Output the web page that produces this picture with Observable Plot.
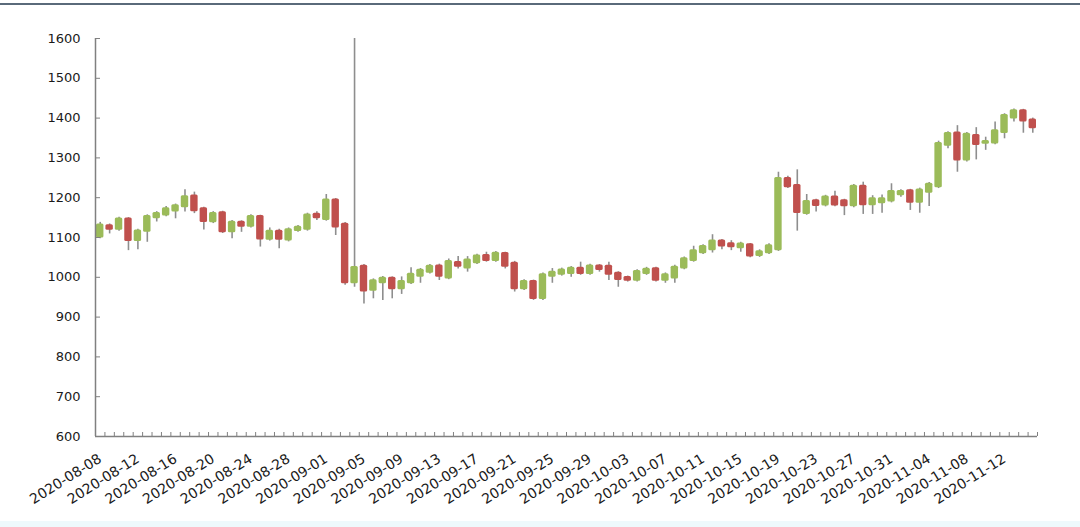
<!DOCTYPE html>
<html>
<head>
<meta charset="utf-8">
<script src="https://cdn.jsdelivr.net/npm/d3@7"></script>
<script src="https://cdn.jsdelivr.net/npm/@observablehq/plot@0.6"></script>
<style>
  html, body { margin: 0; padding: 0; background: #ffffff; }
  #wrap { position: relative; width: 1080px; height: 527px; overflow: hidden; }
  #topline { position: absolute; left: 0; top: 3px; width: 1080px; height: 2px; background: #5a6a7a; }
  #bottomband { position: absolute; left: 0; top: 521px; width: 1080px; height: 6px; background: #eef9fc; }
  #chart { position: absolute; left: 0; top: 0; }
</style>
</head>
<body>
<div id="wrap">
  <div id="chart"></div>
  <div id="topline"></div>
  <div id="bottomband"></div>
</div>
<script>
const dates = [
  "2020-08-08","2020-08-09","2020-08-10","2020-08-11","2020-08-12","2020-08-13","2020-08-14","2020-08-15","2020-08-16","2020-08-17",
  "2020-08-18","2020-08-19","2020-08-20","2020-08-21","2020-08-22","2020-08-23","2020-08-24","2020-08-25","2020-08-26","2020-08-27",
  "2020-08-28","2020-08-29","2020-08-30","2020-08-31","2020-09-01","2020-09-02","2020-09-03","2020-09-04","2020-09-05","2020-09-06",
  "2020-09-07","2020-09-08","2020-09-09","2020-09-10","2020-09-11","2020-09-12","2020-09-13","2020-09-14","2020-09-15","2020-09-16",
  "2020-09-17","2020-09-18","2020-09-19","2020-09-20","2020-09-21","2020-09-22","2020-09-23","2020-09-24","2020-09-25","2020-09-26",
  "2020-09-27","2020-09-28","2020-09-29","2020-09-30","2020-10-01","2020-10-02","2020-10-03","2020-10-04","2020-10-05","2020-10-06",
  "2020-10-07","2020-10-08","2020-10-09","2020-10-10","2020-10-11","2020-10-12","2020-10-13","2020-10-14","2020-10-15","2020-10-16",
  "2020-10-17","2020-10-18","2020-10-19","2020-10-20","2020-10-21","2020-10-22","2020-10-23","2020-10-24","2020-10-25","2020-10-26",
  "2020-10-27","2020-10-28","2020-10-29","2020-10-30","2020-10-31","2020-11-01","2020-11-02","2020-11-03","2020-11-04","2020-11-05",
  "2020-11-06","2020-11-07","2020-11-08","2020-11-09","2020-11-10","2020-11-11","2020-11-12","2020-11-13","2020-11-14","2020-11-15"
];
const open = [
  1099,1132,1118,1149,1090,1113,1147,1154,1164,1175,
  1207,1175,1137,1165,1112,1141,1126,1155,1093,1118,
  1091,1115,1118,1161,1143,1197,1136,984,1030,965,
  984,1000,969,984,1000,1010,1031,996,1040,1021,
  1034,1057,1040,1062,1038,969,992,944,1000,1005,
  1007,1025,1007,1031,1030,1013,1002,990,1007,1024,
  990,996,1021,1040,1059,1067,1094,1087,1072,1084,
  1052,1059,1067,1251,1233,1158,1195,1179,1204,1195,
  1177,1231,1180,1185,1189,1205,1220,1186,1211,1225,
  1329,1365,1292,1359,1334,1335,1361,1398,1421,1398
];
const close = [
  1134,1118,1149,1090,1119,1155,1163,1175,1182,1205,
  1165,1138,1163,1112,1141,1126,1155,1094,1118,1093,
  1122,1128,1159,1147,1197,1124,984,1027,963,994,
  1000,969,992,1010,1020,1030,1000,1042,1025,1046,
  1056,1040,1063,1025,969,992,944,1009,1015,1021,
  1025,1007,1031,1017,1005,992,990,1017,1023,990,
  1009,1028,1049,1069,1080,1094,1076,1074,1086,1051,
  1067,1082,1251,1225,1160,1193,1178,1204,1179,1177,
  1231,1180,1200,1200,1218,1218,1186,1222,1236,1339,
  1364,1292,1362,1331,1344,1371,1409,1421,1390,1373
];
const high = [
  1138,1134,1151,1150,1121,1157,1165,1178,1184,1220,
  1214,1176,1165,1166,1143,1142,1157,1156,1124,1121,
  1124,1130,1161,1165,1208,1198,1138,1600,1032,996,
  1002,1001,1001,1024,1022,1032,1033,1046,1052,1052,
  1058,1063,1065,1063,1040,994,993,1011,1022,1023,
  1027,1038,1033,1032,1038,1014,1003,1019,1025,1025,
  1011,1030,1051,1078,1082,1107,1095,1092,1088,1085,
  1069,1084,1264,1254,1270,1208,1196,1206,1216,1196,
  1233,1239,1205,1207,1235,1220,1221,1224,1238,1342,
  1366,1381,1364,1376,1352,1390,1411,1423,1422,1400
];
const low = [
  1097,1109,1116,1067,1069,1088,1139,1152,1147,1164,
  1160,1119,1135,1110,1097,1113,1124,1076,1091,1072,
  1089,1113,1116,1143,1141,1105,980,975,933,946,
  942,946,957,982,985,1008,992,994,1021,1013,
  1032,1038,1038,1021,963,967,942,942,985,1003,
  1000,1005,1005,1013,992,975,988,988,1005,988,
  985,985,1019,1038,1057,1061,1069,1067,1063,1049,
  1050,1057,1065,1223,1116,1156,1164,1177,1177,1155,
  1175,1158,1158,1161,1187,1201,1168,1161,1178,1223,
  1323,1264,1290,1295,1319,1333,1348,1390,1362,1362
];
const xTickLabels = [
  "2020-08-08","2020-08-12","2020-08-16","2020-08-20","2020-08-24","2020-08-28","2020-09-01",
  "2020-09-05","2020-09-09","2020-09-13","2020-09-17","2020-09-21","2020-09-25","2020-09-29",
  "2020-10-03","2020-10-07","2020-10-11","2020-10-15","2020-10-19","2020-10-23","2020-10-27",
  "2020-10-31","2020-11-04","2020-11-08","2020-11-12"
];
const yTicks = [600,700,800,900,1000,1100,1200,1300,1400,1500,1600];

const upColor = "#9bbb59";
const downColor = "#c0504d";
const wickColor = "#8e8e8e";
const axisColor = "#808080";
const textColor = "#1a1a1a";

const noon = s => new Date(s + "T12:00:00Z");
const data = dates.map((d, i) => ({date: noon(d), open: open[i], close: close[i], high: high[i], low: low[i]}));
const up = data.filter(d => d.close >= d.open);
const down = data.filter(d => d.close < d.open);
const labelData = xTickLabels.map(s => ({date: noon(s), label: s}));
const xStart = new Date(dates[0] + "T00:00:00Z");
const xEnd = new Date("2020-11-16T00:00:00Z");

const chart = Plot.plot({
  width: 1080,
  height: 527,
  marginLeft: 95,
  marginRight: 43,
  marginTop: 38,
  marginBottom: 91,
  style: {fontFamily: "DejaVu Sans, Verdana, sans-serif", fontSize: "13px", color: textColor, background: "transparent", overflow: "visible"},
  x: {type: "utc", domain: [xStart, xEnd], label: null, axis: null},
  y: {domain: [600, 1600], label: null, axis: null},
  marks: [
    Plot.ruleX(data, {x: "date", y1: "low", y2: "high", stroke: wickColor, strokeWidth: 1.6}),
    Plot.rectY(up, {x: "date", interval: d3.utcDay, y1: "open", y2: "close", fill: upColor, insetLeft: 1, insetRight: 1, rx: 1.5}),
    Plot.rectY(down, {x: "date", interval: d3.utcDay, y1: "open", y2: "close", fill: downColor, insetLeft: 1, insetRight: 1, rx: 1.5}),
    Plot.ruleY([600], {stroke: axisColor, strokeWidth: 1.5}),
    Plot.ruleX([xStart], {stroke: axisColor, strokeWidth: 1.5}),
    Plot.axisY({ticks: yTicks, tickSize: 5, dx: 5, tickFormat: () => "", stroke: axisColor, label: null}),
    Plot.axisY({ticks: yTicks, tickSize: 0, tickPadding: 15, tickFormat: "d", label: null, fill: textColor}),
    Plot.axisX({ticks: d3.utcDay, tickSize: 4, dy: -4, tickFormat: () => "", stroke: axisColor, label: null}),
    Plot.text(labelData, {x: "date", frameAnchor: "bottom", text: "label", rotate: -32, textAnchor: "end", lineAnchor: "middle", dy: 21, fontSize: 14, fill: textColor})
  ]
});
document.getElementById("chart").appendChild(chart);
</script>
</body>
</html>
